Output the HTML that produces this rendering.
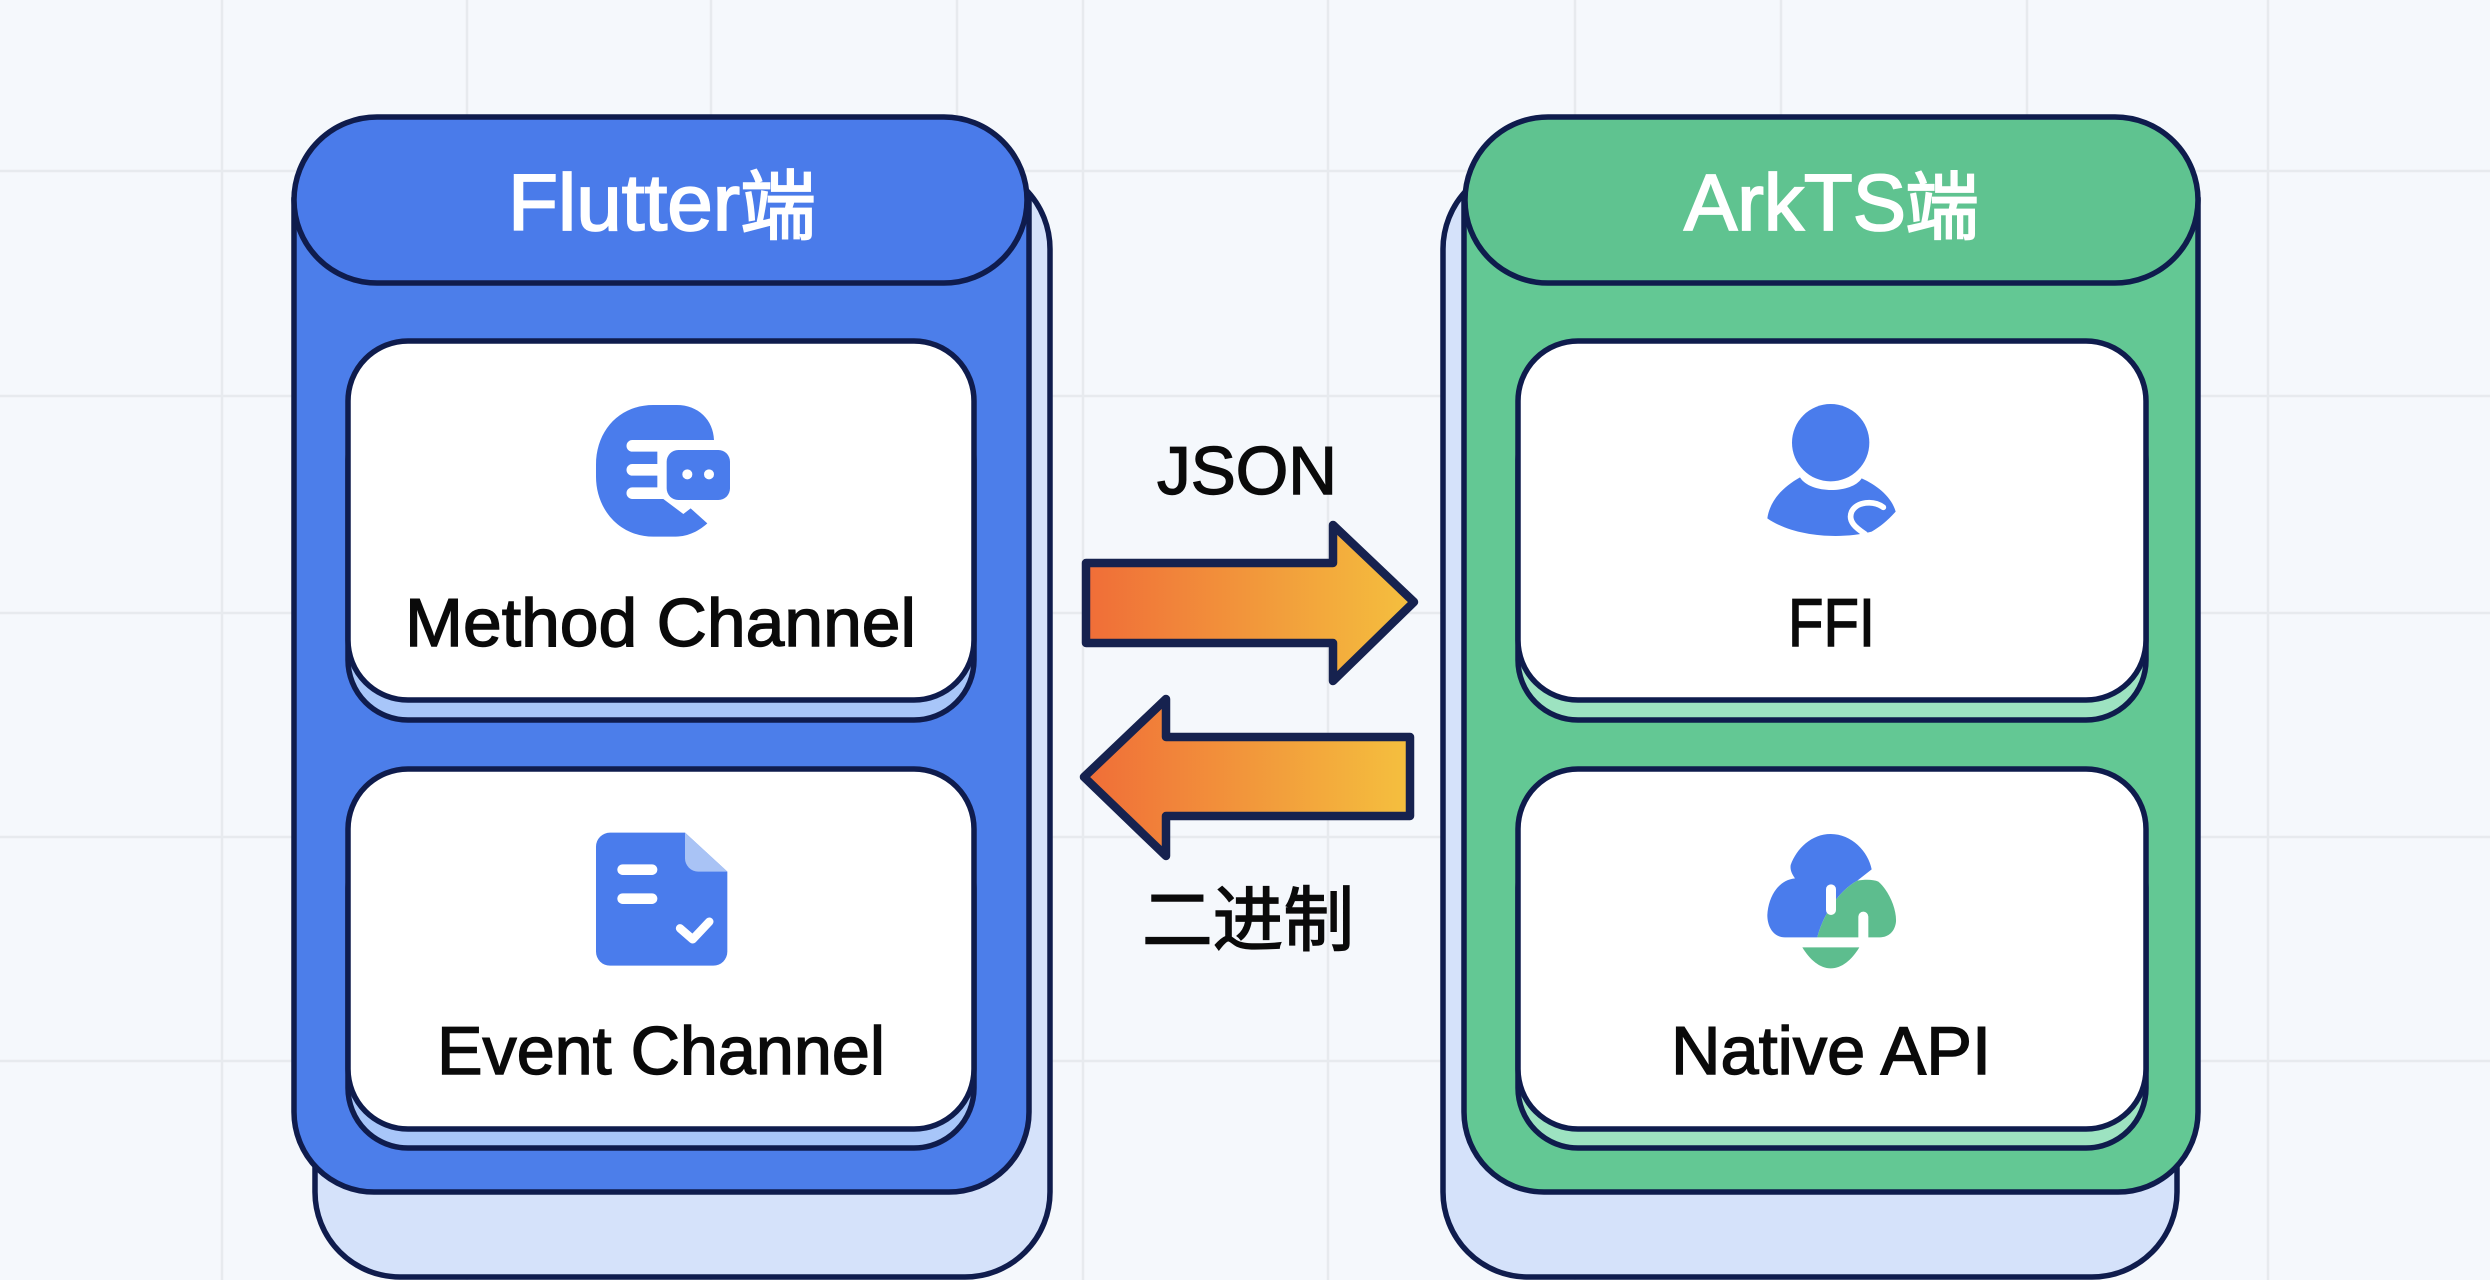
<!DOCTYPE html>
<html lang="zh">
<head>
<meta charset="utf-8">
<title>Flutter ArkTS</title>
<style>
html,body{margin:0;padding:0;width:2490px;height:1280px;overflow:hidden;background:#f5f8fc}
svg{display:block}
text{font-family:"Liberation Sans","Noto Sans CJK SC",sans-serif}
</style>
</head>
<body>
<svg xmlns="http://www.w3.org/2000/svg" width="2490" height="1280" viewBox="0 0 2490 1280">
<defs>
<linearGradient id="ar" x1="0" y1="0" x2="1" y2="0"><stop offset="0" stop-color="#f06d38"/><stop offset="1" stop-color="#f4c03e"/></linearGradient>
</defs>
<rect width="2490" height="1280" fill="#f5f8fc"/>
<g stroke="#e7eaee" stroke-width="2.5" fill="none">
<path d="M0 171H2490M0 396H2490M0 613H2490M0 837H2490M0 1061H2490"/>
<path d="M222 0V1280M467 0V1280M711 0V1280M957 0V120M1083 0V1280M1328 0V1280M1575 0V1280M1781 0V120M2027 0V120M2268 0V1280"/>
</g>

<!-- Left panel -->
<g stroke="#0f1c4d" stroke-width="5.5">
<rect x="315" y="164" width="735" height="1113" rx="85" fill="#d5e2fa"/>
<path d="M294 200V1112a80 80 0 0 0 80 80H949a80 80 0 0 0 80-80V200Z" fill="#4c7eea"/>
<rect x="294" y="117" width="733" height="166" rx="83" fill="#4a7bea"/>
<rect x="348" y="400" width="626" height="320" rx="60" fill="#a8c6f9"/>
<rect x="348" y="341" width="626" height="359" rx="60" fill="#fff"/>
<rect x="348" y="828" width="626" height="320" rx="60" fill="#a8c6f9"/>
<rect x="348" y="769" width="626" height="360" rx="60" fill="#fff"/>
</g>

<!-- Right panel -->
<g stroke="#0f1c4d" stroke-width="5.5">
<rect x="1443" y="164" width="734" height="1113" rx="85" fill="#d5e2fa"/>
<path d="M1464 200V1112a80 80 0 0 0 80 80H2118a80 80 0 0 0 80-80V200Z" fill="#63c894"/>
<rect x="1465" y="117" width="733" height="166" rx="83" fill="#5fc390"/>
<rect x="1518" y="400" width="628" height="320" rx="60" fill="#9de3c1"/>
<rect x="1518" y="341" width="628" height="359" rx="60" fill="#fff"/>
<rect x="1518" y="828" width="628" height="320" rx="60" fill="#9de3c1"/>
<rect x="1518" y="769" width="628" height="360" rx="60" fill="#fff"/>
</g>

<!-- Arrows -->
<g stroke="#16224f" stroke-width="8.5" stroke-linejoin="round" fill="url(#ar)">
<path d="M1086 563H1333V525L1414 602L1333 681V643H1086Z"/>
<path d="M1084 777L1166 699V737H1410V816H1166V856Z"/>
</g>

<!-- Header labels -->
<g fill="#fff" stroke="#fff" stroke-width="1.8" font-size="80">
<text x="508" y="230" textLength="232" lengthAdjust="spacingAndGlyphs">Flutter</text>
<text x="740" y="233" font-size="76">端</text>
<text x="1684" y="230" textLength="222" lengthAdjust="spacingAndGlyphs">ArkTS</text>
<text x="1905" y="233" font-size="74">端</text>
</g>

<!-- Card labels -->
<g fill="#0a0a0a" stroke="#0a0a0a" stroke-width="1.4" font-size="68">
<text x="405" y="646" textLength="511" lengthAdjust="spacingAndGlyphs">Method Channel</text>
<text x="437" y="1074" textLength="448" lengthAdjust="spacingAndGlyphs">Event Channel</text>
<text x="1788" y="646" textLength="87" lengthAdjust="spacingAndGlyphs">FFI</text>
<text x="1671" y="1074" textLength="320" lengthAdjust="spacingAndGlyphs">Native API</text>
<text x="1157" y="494" textLength="180" lengthAdjust="spacingAndGlyphs">JSON</text>
<text x="1142" y="945" font-size="71" textLength="212" lengthAdjust="spacingAndGlyphs">二进制</text>
</g>

<!-- Icon 1: Method Channel -->
<g transform="translate(570 390) scale(.33333)">
<path fill="#4a7cec" d="M250 45H320C385 45 430 90 432 150H187a17 17 0 0 0 0 35H262V222H187a17 17 0 0 0 0 35H262V292H187a17 17 0 0 0 0 35H280L340 372L362 355L412 400C380 428 350 440 310 440H250C150 440 78 360 78 260V225C78 120 150 45 250 45Z"/>
<rect x="290" y="180" width="190" height="150" rx="35" fill="#4a7cec"/>
<circle cx="352" cy="253" r="15" fill="#fff"/>
<circle cx="417" cy="253" r="15" fill="#fff"/>
</g>

<!-- Icon 2: Event Channel -->
<g transform="translate(570 820) scale(.33333)">
<path fill="#4a7cec" d="M120 38H345L472 155V395a42 42 0 0 1-42 42H120a42 42 0 0 1-42-42V80a42 42 0 0 1 42-42Z"/>
<path fill="#a9c3f5" d="M345 38L472 155H385a40 40 0 0 1-40-40Z"/>
<rect x="142" y="133" width="120" height="32" rx="16" fill="#fff"/>
<rect x="142" y="220" width="120" height="32" rx="16" fill="#fff"/>
<path d="M330 325L368 358L418 305" fill="none" stroke="#fff" stroke-width="25" stroke-linecap="round" stroke-linejoin="round"/>
</g>

<!-- Icon 3: FFI -->
<g transform="translate(1740 390) scale(.33333)">
<circle cx="272" cy="158" r="116" fill="#4a7cec"/>
<path fill="#4a7cec" d="M180 262C210 312 335 312 365 265C410 285 455 320 467 365C440 395 420 410 395 425C300 450 160 440 82 385C90 330 130 290 180 262Z"/>
<path d="M430 352C400 330 350 335 335 365C322 395 350 415 375 432" fill="none" stroke="#fff" stroke-width="17" stroke-linecap="round"/>
</g>

<!-- Icon 4: Native API -->
<g transform="translate(1740 820) scale(.33333)">
<path fill="#4a7cec" d="M272 42C335 42 385 95 395 148L352 182C300 210 250 280 232 352H135C100 352 82 320 82 285C85 230 115 180 165 175C155 160 150 150 152 135C170 85 215 42 272 42Z"/>
<path fill="#5dbd8e" d="M232 352C250 280 300 210 352 182C375 178 400 178 415 185C445 210 470 265 468 305C465 335 445 352 420 352H385V290a15 15 0 0 0-30 0V352Z"/>
<rect x="258" y="193" width="30" height="92" rx="15" fill="#fff"/>
<path fill="#5dbd8e" d="M187 382H358C335 420 305 445 272 445C240 445 210 420 187 382Z"/>
</g>
</svg>
</body>
</html>
